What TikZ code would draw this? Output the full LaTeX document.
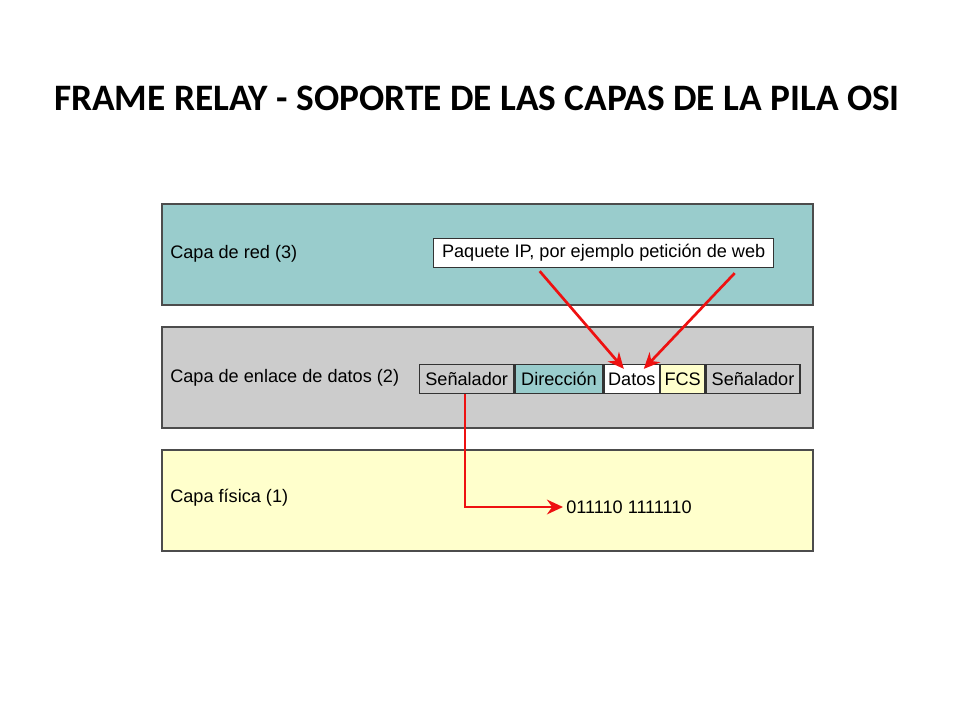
\documentclass[tikz,border=0pt]{standalone}
\usepackage{fontspec}
\setmainfont{Liberation Sans}
\newfontfamily\titlefont{Carlito}
\usetikzlibrary{positioning,arrows.meta}
\definecolor{redlayer}{HTML}{99CCCC}
\definecolor{linklayer}{HTML}{CCCCCC}
\definecolor{physlayer}{HTML}{FFFFCC}
\definecolor{arrowred}{HTML}{EE1111}
\newdimen\px \px=0.75pt
\tikzset
{
    layer/.style = {rectangle, draw=black!70, line width=1.2pt, minimum width=651\px, minimum height=101\px, anchor=north west},
    cell/.style  = {rectangle, draw=black!80, line width=1pt, minimum height=29\px, inner sep=0pt, anchor=west, font=\fontsize{13.6}{15}\selectfont},
    label/.style = {anchor=west, inner sep=0pt, font=\fontsize{13.6}{15}\selectfont},
    arrow/.style = {draw=arrowred, line width=2pt, -{Stealth[length=12pt,width=11pt]}}
}
\begin{document}
\begin{tikzpicture}[x=0.75pt, y=-0.75pt]
	\useasboundingbox (0,0) rectangle (960,720);
	\node (title) at (477,98) {\titlefont\bfseries\fontsize{28}{32}\selectfont FRAME RELAY - SOPORTE DE LAS CAPAS DE LA PILA OSI};

	\node (l3) [layer, fill=redlayer] at (161,203) {};
	\node (l2) [layer, fill=linklayer] at (161,326) {};
	\node (l1) [layer, fill=physlayer] at (161,449) {};

	\node (t3) [label] at (170,254) {Capa de red (3)};
	\node (t2) [label] at (170,378) {Capa de enlace de datos (2)};
	\node (t1) [label] at (170,498) {Capa física (1)};

	\node (ip) [cell, fill=white, minimum width=340\px] at (433,253) {Paquete IP, por ejemplo petición de web};

	\node (sen1) [cell, fill=linklayer, minimum width=94\px] at (419,379) {Señalador};
	\node (dir)  [cell, fill=redlayer, minimum width=88\px, right=0pt of sen1] {Dirección};
	\node (dat)  [cell, fill=white, minimum width=55\px, right=0pt of dir] {Datos};
	\node (fcs)  [cell, fill=physlayer, minimum width=44\px, right=0pt of dat] {FCS};
	\node (sen2) [cell, fill=linklayer, minimum width=94\px, right=0pt of fcs] {Señalador};

	\node (bits) [label] at (566,507) {011110 1111110};
	\coordinate (bend) at (465,507);

	\draw [arrow] ([xshift=-64\px,yshift=-3\px]ip.south) -- ([xshift=-8\px,yshift=-5\px]dat.north);
	\draw [arrow] ([xshift=131\px,yshift=-5\px]ip.south) -- ([xshift=12\px,yshift=-5\px]dat.north);
	\draw [arrow] (sen1.south -| bend) -- (bend) -- ([xshift=-3\px]bits.west);
\end{tikzpicture}
\end{document}
